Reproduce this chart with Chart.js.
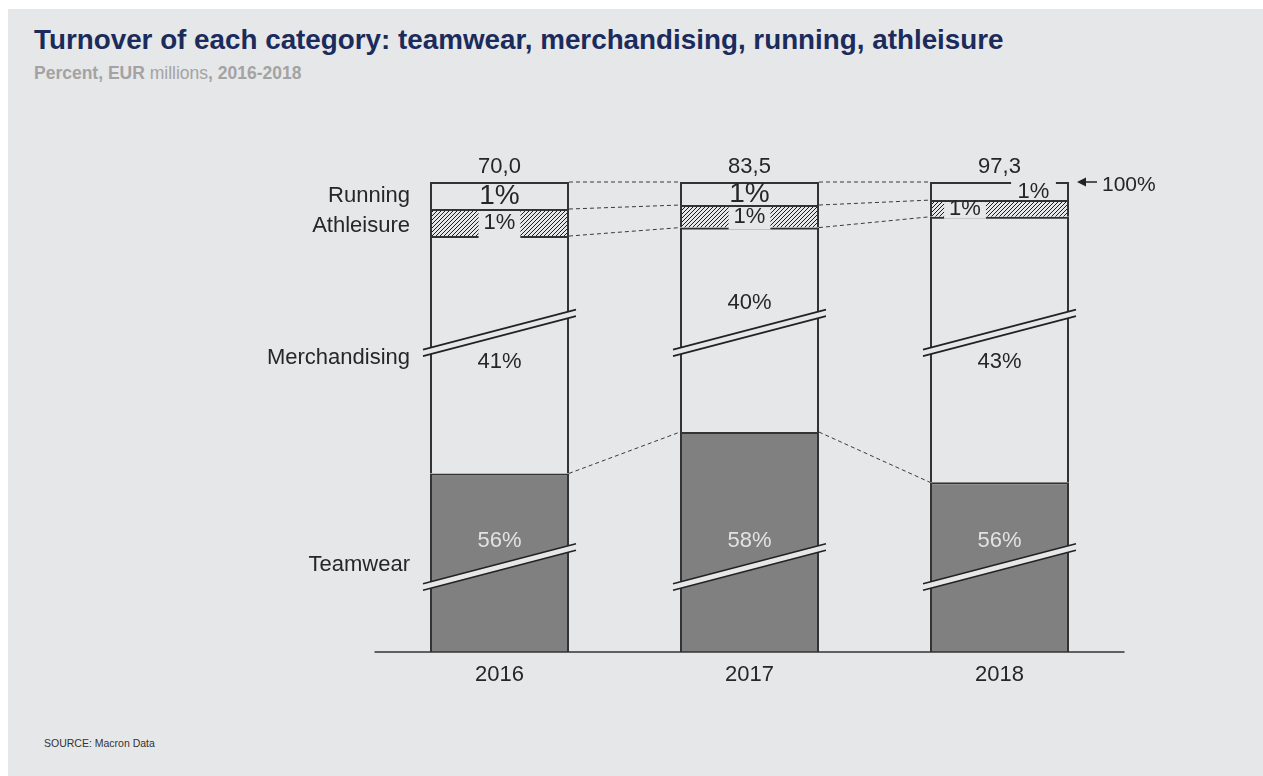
<!DOCTYPE html>
<html>
<head>
<meta charset="utf-8">
<script src="https://cdn.jsdelivr.net/npm/chart.js@4.4.1/dist/chart.umd.min.js"></script>
<style>
  html, body { margin: 0; padding: 0; background: #ffffff; }
  #panel { position: absolute; left: 8px; top: 9px; width: 1255px; height: 767px; background: #e6e7e9; }
  #title { position: absolute; left: 34px; top: 26px; font: bold 27.8px "Liberation Sans", Arial, sans-serif; color: #1b2b5b; white-space: nowrap; line-height: 28px; }
  #sub { position: absolute; left: 34px; top: 63px; font: bold 17.5px "Liberation Sans", Arial, sans-serif; color: #a3a3a3; white-space: nowrap; line-height: 20px; }
  #sub span { font-weight: normal; }
  #source { position: absolute; left: 44px; top: 737px; font: 10.5px "Liberation Sans", Arial, sans-serif; color: #333; white-space: nowrap; line-height: 12px; }
  #chart { position: absolute; left: 0; top: 0; }
</style>
</head>
<body>
<div id="panel"></div>
<div id="title">Turnover of each category: teamwear, merchandising, running, athleisure</div>
<div id="sub">Percent, EUR <span>millions</span>, 2016-2018</div>
<div id="source">SOURCE: Macron Data</div>
<canvas id="chart" width="1263" height="776"></canvas>
<script>
// ---------- data ----------
const years = ['2016', '2017', '2018'];
const totals = ['70,0', '83,5', '97,3'];
const categories = ['Teamwear', 'Merchandising', 'Athleisure', 'Running'];
const teamwearPct = [56, 58, 56];
const merchandisingPct = [41, 40, 43];
const athleisurePct = [1, 1, 1];
const runningPct = [1, 1, 1];
const teamwearDrawn = [38.0, 46.8, 36.1];
const merchandisingDrawn = [50.5, 43.5, 56.5];
const athleisureDrawn = [5.75, 4.8, 3.55];
const runningDrawn = [5.75, 4.9, 3.85];
// positions of the axis-break marks, in drawn units
const teamwearBreak = 18.1;
const merchandisingBreak = 67.9;
// left-hand category label heights for the broken segments, in drawn units
const teamwearLabelAt = 18.5;
const merchandisingLabelAt = 62.5;

// ---------- styles ----------
const BG = '#e6e7e9';
const INK = '#262626';
const EDGE = '#333333';
const FONT = '"Liberation Sans", Arial, sans-serif';
const runningLabelSize = [28, 28, 22];
const runningLabelDx = [0, 0, 34];
const runningLabelBox = [false, false, true];
const athleisureLabelDx = [0, 0, -34.5];
const merchLabelSide = [1, -1, 1];

function makeHatch() {
  const s = 4;
  const c = document.createElement('canvas');
  c.width = s; c.height = s;
  const g = c.getContext('2d');
  g.fillStyle = BG; g.fillRect(0, 0, s, s);
  g.strokeStyle = '#1e1e1e'; g.lineWidth = 1;
  g.beginPath();
  g.moveTo(0, s); g.lineTo(s, 0);
  g.moveTo(-1, 1); g.lineTo(1, -1);
  g.moveTo(s - 1, s + 1); g.lineTo(s + 1, s - 1);
  g.stroke();
  return g.createPattern(c, 'repeat');
}

function seg(chart, ds, i) {
  const el = chart.getDatasetMeta(ds).data[i];
  return { x: el.x, w: el.width, top: Math.min(el.y, el.base), bottom: Math.max(el.y, el.base),
           left: el.x - el.width / 2, right: el.x + el.width / 2 };
}

function label(ctx, text, x, y, size, color, align, box) {
  ctx.font = size + 'px ' + FONT;
  const w = ctx.measureText(text).width;
  if (box) {
    ctx.fillStyle = BG;
    ctx.fillRect(x - w / 2 - box.padX, box.top, w + 2 * box.padX, box.bottom - box.top);
  }
  ctx.fillStyle = color;
  ctx.textAlign = align || 'center';
  ctx.textBaseline = 'middle';
  ctx.fillText(text, x, y);
}

const decor = {
  id: 'decor',
  beforeDatasetsDraw(chart) {
    const ctx = chart.ctx;
    ctx.save();
    ctx.strokeStyle = '#3a3a3a';
    ctx.lineWidth = 1;
    ctx.setLineDash([4, 3]);
    for (let i = 0; i < years.length - 1; i++) {
      const pairs = [[3, 'top'], [2, 'top'], [2, 'bottom'], [0, 'top']];
      pairs.forEach(([ds, edge]) => {
        const a = seg(chart, ds, i), b = seg(chart, ds, i + 1);
        ctx.beginPath();
        ctx.moveTo(a.right, a[edge]);
        ctx.lineTo(b.left, b[edge]);
        ctx.stroke();
      });
    }
    ctx.restore();
  },
  afterDatasetDraw(chart, args) {
    if (args.index !== 3) return;
    const ctx = chart.ctx;
    ctx.save();
    for (let i = 0; i < years.length; i++) {
      const s = seg(chart, 3, i);
      const cy = (s.top + s.bottom) / 2 + 0.5;
      const box = runningLabelBox[i] ? { padX: 6.5, top: s.top - 1, bottom: s.bottom - 1 } : null;
      label(ctx, runningPct[i] + '%', s.x + runningLabelDx[i], cy, runningLabelSize[i], INK, 'center', box);
    }
    ctx.restore();
  },
  afterDatasetsDraw(chart) {
    const ctx = chart.ctx;
    const ys = chart.scales.y;
    const area = chart.chartArea;
    ctx.save();
    // base axis
    ctx.strokeStyle = EDGE; ctx.lineWidth = 1.5;
    ctx.beginPath();
    ctx.moveTo(area.left, ys.getPixelForValue(0));
    ctx.lineTo(area.right, ys.getPixelForValue(0));
    ctx.stroke();

    // axis break marks
    const slope = 40 / 153;
    const gap = 6.5;
    for (let i = 0; i < years.length; i++) {
      const s = seg(chart, 0, i);
      const half = s.w / 2 + 7;
      [teamwearBreak, merchandisingBreak].forEach(v => {
        const cy = ys.getPixelForValue(v);
        const x1 = s.x - half, x2 = s.x + half;
        const y1 = cy + slope * half, y2 = cy - slope * half;
        ctx.fillStyle = BG;
        ctx.beginPath();
        ctx.moveTo(x1, y1 - gap / 2); ctx.lineTo(x2, y2 - gap / 2);
        ctx.lineTo(x2, y2 + gap / 2); ctx.lineTo(x1, y1 + gap / 2);
        ctx.closePath(); ctx.fill();
        ctx.strokeStyle = '#222'; ctx.lineWidth = 1.6;
        ctx.beginPath();
        ctx.moveTo(x1, y1 - gap / 2); ctx.lineTo(x2, y2 - gap / 2);
        ctx.moveTo(x1, y1 + gap / 2); ctx.lineTo(x2, y2 + gap / 2);
        ctx.stroke();
      });
    }

    for (let i = 0; i < years.length; i++) {
      const t = seg(chart, 0, i);
      const a = seg(chart, 2, i);
      // athleisure labels
      label(ctx, athleisurePct[i] + '%', a.x + athleisureLabelDx[i], (a.top + a.bottom) / 2 + 0.5, 22, INK, 'center',
            { padX: 5, top: a.top + 2, bottom: a.bottom + 2 });
      // merchandising labels
      label(ctx, merchandisingPct[i] + '%', t.x, ys.getPixelForValue(merchandisingBreak) + merchLabelSide[i] * 29.5, 22, INK);
      // teamwear labels
      label(ctx, teamwearPct[i] + '%', t.x, ys.getPixelForValue(teamwearBreak) - 26, 22, '#e2e2e2');
      // totals
      label(ctx, totals[i], t.x, ys.getPixelForValue(100) - 15, 22, INK);
      // years
      label(ctx, years[i], t.x, ys.getPixelForValue(0) + 23, 22, INK);
    }

    // left category labels
    const first = seg(chart, 0, 0);
    const lx = first.left - 20;
    const r0 = seg(chart, 3, 0), a0 = seg(chart, 2, 0);
    label(ctx, categories[3], lx, (r0.top + r0.bottom) / 2 + 0.5, 22, INK, 'right');
    label(ctx, categories[2], lx, (a0.top + a0.bottom) / 2 + 3, 22, INK, 'right');
    label(ctx, categories[1], lx, ys.getPixelForValue(merchandisingLabelAt), 22, INK, 'right');
    label(ctx, categories[0], lx, ys.getPixelForValue(teamwearLabelAt), 22, INK, 'right');

    // 100% arrow
    const last = seg(chart, 3, years.length - 1);
    const tip = last.right + 8, ay = ys.getPixelForValue(100);
    ctx.strokeStyle = '#222'; ctx.lineWidth = 1.5; ctx.setLineDash([]);
    ctx.beginPath(); ctx.moveTo(tip + 6, ay); ctx.lineTo(tip + 20, ay); ctx.stroke();
    ctx.fillStyle = '#222';
    ctx.beginPath(); ctx.moveTo(tip, ay); ctx.lineTo(tip + 9, ay - 4.5); ctx.lineTo(tip + 9, ay + 4.5); ctx.closePath(); ctx.fill();
    label(ctx, '100%', tip + 25, ay + 3, 21, INK, 'left');
    ctx.restore();
  }
};

const hatch = makeHatch();
const common = {
  borderColor: EDGE,
  borderWidth: { top: 2, left: 2, right: 2, bottom: 0 },
  borderSkipped: false,
  inflateAmount: 0,
  barPercentage: 0.556,
  categoryPercentage: 1.0
};

new Chart(document.getElementById('chart'), {
  type: 'bar',
  data: {
    labels: years,
    datasets: [
      Object.assign({ label: categories[0], data: teamwearDrawn, backgroundColor: '#808080' }, common),
      Object.assign({ label: categories[1], data: merchandisingDrawn, backgroundColor: 'rgba(0,0,0,0)' }, common),
      Object.assign({ label: categories[2], data: athleisureDrawn, backgroundColor: hatch }, common),
      Object.assign({ label: categories[3], data: runningDrawn, backgroundColor: 'rgba(0,0,0,0)' }, common)
    ]
  },
  options: {
    responsive: false,
    animation: false,
    devicePixelRatio: 1,
    events: [],
    layout: { padding: { left: 374.5, right: 138.5, top: 182, bottom: 124 } },
    scales: {
      x: { display: false, stacked: true, offset: true },
      y: { display: false, stacked: true, min: 0, max: 100 }
    },
    plugins: { legend: { display: false }, tooltip: { enabled: false }, title: { display: false } }
  },
  plugins: [decor]
});
</script>
</body>
</html>
